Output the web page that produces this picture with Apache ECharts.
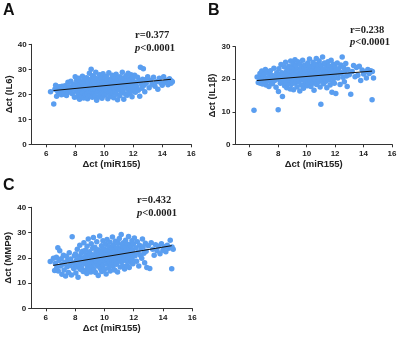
<!DOCTYPE html>
<html><head><meta charset="utf-8">
<script src="https://cdn.jsdelivr.net/npm/echarts@6/dist/echarts.min.js"></script>
<style>html,body{margin:0;padding:0;background:#fff}#c{width:412px;height:350px}</style>
</head><body><div id="c"></div>
<script>
// Δct (miR155) for each sample (shared x)
const mir155 = [6.30,6.52,6.60,6.65,6.72,6.75,6.82,6.85,6.90,6.95,7.00,7.05,7.10,7.15,7.20,7.25,7.30,7.35,7.40,7.45,7.50,7.55,7.60,7.65,7.70,7.75,7.80,7.85,7.90,7.95,
8.00,8.02,8.05,8.10,8.12,8.15,8.20,8.22,8.25,8.30,8.32,8.35,8.40,8.42,8.45,8.50,8.52,8.55,8.58,8.60,8.62,8.65,8.70,8.72,8.75,8.78,8.80,8.82,8.85,8.88,8.90,8.92,8.95,8.98,
9.00,9.02,9.05,9.08,9.10,9.12,9.15,9.18,9.20,9.22,9.25,9.28,9.30,9.32,9.35,9.38,9.40,9.42,9.45,9.48,9.50,9.52,9.55,9.58,9.60,9.62,9.65,9.68,9.70,9.72,9.75,9.78,9.80,9.82,9.85,9.88,9.90,9.92,9.95,9.98,
10.00,10.02,10.05,10.08,10.10,10.12,10.15,10.18,10.20,10.22,10.25,10.28,10.30,10.32,10.35,10.38,10.40,10.42,10.45,10.48,10.50,10.52,10.55,10.58,10.60,10.62,10.65,10.68,10.70,10.72,10.75,10.78,10.80,10.82,10.85,10.88,10.90,10.92,10.95,10.98,
11.00,11.02,11.05,11.08,11.10,11.12,11.15,11.18,11.20,11.22,11.25,11.28,11.30,11.32,11.35,11.38,11.40,11.42,11.45,11.48,11.50,11.52,11.55,11.58,11.60,11.62,11.65,11.68,11.70,11.72,11.75,11.78,11.80,11.82,11.85,11.88,11.90,11.92,11.95,11.98,
12.00,12.05,12.10,12.15,12.20,12.25,12.30,12.35,12.40,12.45,12.50,12.55,12.60,12.65,12.70,12.75,12.80,12.85,12.90,13.00,13.10,13.20,13.30,13.40,13.50,13.60,13.70,13.80,13.90,14.00,14.10,14.20,14.30,14.40,14.50,14.60,14.62,14.70];

const il6 = [21.0,16.1,22.0,23.6,19.2,21.5,22.8,20.3,23.0,21.2,22.5,19.8,23.2,21.0,22.6,20.0,23.4,21.8,19.5,22.2,24.8,20.8,23.0,21.4,25.2,22.0,20.2,24.0,22.8,18.8,
27.0,23.5,21.2,25.5,19.0,22.6,24.2,20.5,26.4,18.0,23.8,21.6,25.0,19.6,22.4,27.2,20.8,24.6,18.5,23.0,25.8,21.4,19.8,24.0,22.2,26.6,20.2,23.6,18.2,25.2,21.8,24.4,20.6,28.4,
22.6,19.4,26.0,23.2,30.0,21.0,24.8,18.8,27.4,22.0,25.4,20.4,23.8,26.8,19.2,24.2,21.6,28.8,22.8,17.6,25.0,20.8,23.4,26.2,21.2,24.6,19.0,27.8,22.4,25.6,20.0,23.6,26.4,21.8,18.4,24.8,22.2,28.2,20.6,25.2,
23.0,19.6,26.6,22.6,24.4,20.2,27.2,23.4,21.4,25.8,18.2,24.0,22.0,28.6,20.8,24.8,23.2,19.2,26.0,21.6,25.4,22.8,27.6,20.4,24.2,23.0,18.6,25.6,22.4,26.8,21.0,24.6,23.6,28.0,20.0,25.0,22.6,17.8,26.2,24.0,
21.8,25.6,23.4,19.4,27.0,24.4,22.2,26.0,20.6,24.8,28.8,23.0,21.2,25.4,18.0,24.2,26.6,22.8,25.8,20.0,24.6,27.4,22.4,19.6,25.2,23.6,28.4,21.6,24.0,26.2,22.2,20.4,25.6,23.2,27.8,21.4,24.8,19.0,26.4,23.8,
22.0,25.0,27.6,20.8,24.6,23.0,26.8,21.6,25.4,19.2,30.8,24.2,22.4,26.0,30.2,23.6,21.0,25.8,24.4,27.0,22.6,25.6,24.0,26.8,23.2,25.0,22.0,26.4,24.6,23.6,27.0,24.8,25.6,23.8,26.2,24.4,25.4,25.0];

const il1b = [10.5,20.7,19.0,20.5,21.8,18.8,19.9,22.5,18.5,20.9,21.5,19.2,23.0,18.2,20.4,21.9,19.5,17.8,20.8,22.6,19.0,21.2,18.6,20.0,23.4,19.6,21.0,17.5,22.0,20.2,
10.6,16.2,23.2,19.8,21.4,18.8,24.5,20.6,22.0,14.7,19.2,21.8,20.0,23.8,18.0,21.2,25.2,19.4,22.4,17.4,20.8,23.0,18.6,21.6,24.0,19.8,22.6,20.4,17.0,25.6,21.0,18.4,23.6,20.2,
22.2,19.0,24.8,16.8,21.4,23.4,20.0,26.0,18.8,21.8,24.2,19.6,22.8,17.6,20.6,25.4,21.2,23.0,19.2,22.4,20.4,16.4,24.6,21.6,18.2,23.8,20.8,22.6,19.8,25.8,21.0,17.2,23.2,20.2,22.0,18.6,24.4,21.4,19.4,23.6,
20.6,22.8,18.0,25.0,21.2,19.0,23.0,20.8,26.2,22.2,19.6,24.0,17.8,21.8,23.4,20.0,22.6,18.8,25.2,21.0,23.8,16.6,20.4,22.4,24.6,19.8,21.6,26.4,18.4,22.0,23.2,20.6,24.2,21.4,19.2,25.6,22.8,20.2,17.6,23.6,
12.3,21.2,24.4,19.6,22.6,26.8,20.8,23.0,18.6,21.8,25.0,20.0,22.4,24.8,19.4,21.6,23.6,17.4,22.2,20.4,25.4,21.0,23.4,19.8,24.0,21.4,18.2,22.8,20.6,25.8,22.0,16.0,23.2,21.2,19.0,24.6,22.4,20.2,18.8,23.8,
21.6,15.6,22.8,25.0,20.4,23.2,21.8,18.4,24.4,22.0,26.8,20.6,23.6,19.2,22.6,24.8,21.0,17.8,23.0,21.4,15.4,22.4,24.2,20.8,23.6,21.2,24.0,19.6,22.8,21.6,22.2,20.4,23.0,21.8,22.6,13.7,22.4,20.4];

const mmp9 = [18.5,19.8,15.0,17.8,20.2,16.2,24.0,14.8,18.9,22.8,16.8,19.6,13.5,17.4,21.0,15.2,18.2,12.8,20.6,16.5,19.0,14.2,22.0,17.0,19.5,13.2,28.3,18.0,15.8,20.8,
17.2,21.5,14.0,19.0,16.4,23.4,12.3,18.6,20.4,17.0,25.0,15.5,19.8,21.8,16.0,22.6,18.4,14.6,20.0,26.0,17.6,19.2,23.0,15.0,21.2,18.2,13.8,24.6,16.6,20.6,27.4,18.8,15.4,22.4,
19.6,17.2,21.6,14.4,25.6,18.0,20.8,16.2,23.8,19.4,28.0,15.2,21.0,17.8,24.2,19.0,14.2,22.2,18.6,26.4,20.4,16.8,23.2,13.0,19.8,21.8,17.4,28.6,20.2,15.8,22.8,18.4,24.8,14.6,21.4,19.2,26.8,17.0,23.6,20.0,
15.4,22.0,18.8,25.4,21.2,13.6,19.6,27.2,17.6,23.0,20.6,16.0,24.4,21.6,18.2,26.2,14.8,22.6,20.0,17.2,23.8,19.4,28.2,16.6,21.8,25.0,18.0,22.4,15.2,20.8,26.6,19.0,23.4,17.4,21.4,24.0,14.4,20.4,25.8,18.6,
22.2,27.6,19.8,16.4,23.6,21.0,29.2,18.4,24.8,20.6,16.8,22.8,26.0,19.6,21.8,15.6,24.2,20.2,27.0,18.8,23.2,21.2,17.0,25.4,22.0,19.2,28.4,23.8,16.2,21.6,25.2,20.0,18.2,24.6,22.6,26.8,19.4,23.0,17.6,25.6,
21.4,27.8,20.8,24.0,18.6,26.4,22.2,16.8,25.0,21.0,23.6,19.8,27.4,24.4,21.8,18.0,25.8,22.6,16.2,24.8,15.8,26.0,23.4,21.0,25.2,22.8,24.6,21.6,25.6,23.0,24.4,22.4,25.0,23.8,27.0,15.7,24.3,23.4];

// regression lines (endpoints)
const fitIL6  = [[6.5,21.5],[14.6,26.0]];
const fitIL1b = [[6.5,19.6],[14.6,22.5]];
const fitMMP9 = [[6.5,17.0],[14.6,24.8]];

const xTicks = [6,8,10,12,14,16];
const panelLetters = ['A','B','C'];
const yTitles = ['\u0394ct (IL6)','\u0394ct (IL1\u03b2)','\u0394ct (MMP9)'];
const xTitle = '\u0394ct (miR155)';
const yMax = [40,30,40];
const rTexts = ['r=0.377','r=0.238','r=0.432'];

const grids = [
  {left:31.7, top:44.3, width:159.5, height:100},
  {left:235.5, top:46.7, width:156.5, height:97.6},
  {left:31.2, top:207.3, width:161, height:101}
];
const ySeries = [il6, il1b, mmp9];
const fits = [fitIL6, fitIL1b, fitMMP9];

const axisColor = '#333';
const sans = 'Liberation Sans, Arial, sans-serif';
const serif = 'Liberation Serif, Times New Roman, serif';

const option = {
  animation:false,
  backgroundColor:'#fff',
  grid: grids,
  xAxis: grids.map((g,i)=>({
    gridIndex:i, type:'value', min:5, max:16,
    name:xTitle, nameLocation:'middle', nameGap:15.5,
    nameTextStyle:{fontFamily:sans, fontWeight:'bold', fontSize:9.5, color:'#222'},
    axisLine:{show:true, lineStyle:{color:axisColor, width:1}},
    axisTick:{show:true, length:3, inside:false, customValues:xTicks, lineStyle:{color:axisColor}},
    axisLabel:{customValues:xTicks, margin:5, fontFamily:sans, fontWeight:'bold', fontSize:8, color:'#222'},
    splitLine:{show:false}
  })),
  yAxis: grids.map((g,i)=>({
    gridIndex:i, type:'value', min:0, max:yMax[i], interval:10,
    name:yTitles[i], nameLocation:'middle', nameGap:17,
    nameTextStyle:{fontFamily:sans, fontWeight:'bold', fontSize:9.5, color:'#222'},
    axisLine:{show:true, lineStyle:{color:axisColor, width:1}},
    axisTick:{show:true, length:3, lineStyle:{color:axisColor}},
    axisLabel:{margin:5, fontFamily:sans, fontWeight:'bold', fontSize:8, color:'#222'},
    splitLine:{show:false}
  })),
  series: [].concat(
    ySeries.map((ys,i)=>({
      type:'scatter', xAxisIndex:i, yAxisIndex:i, symbolSize:5.5,
      itemStyle:{color:'#5a9ef0', opacity:1},
      data: mir155.map((x,k)=>[x, ys[k]]), z:2
    })),
    fits.map((f,i)=>({
      type:'line', xAxisIndex:i, yAxisIndex:i, symbol:'none',
      lineStyle:{color:'#111', width:1}, data:f, z:3
    }))
  ),
  graphic: [
    {type:'text', left:3, top:3, style:{text:'A', font:'bold 16px '+sans, fill:'#111'}},
    {type:'text', left:208, top:3, style:{text:'B', font:'bold 16px '+sans, fill:'#111'}},
    {type:'text', left:3, top:178, style:{text:'C', font:'bold 16px '+sans, fill:'#111'}},
    {type:'text', left:135, top:30, style:{text:rTexts[0], font:'bold 10.5px '+serif, fill:'#222'}},
    {type:'text', left:135, top:43, style:{rich:{i:{fontStyle:'italic', fontWeight:'bold', fontSize:10.5, fontFamily:serif, fill:'#222'}, n:{fontWeight:'bold', fontSize:10.5, fontFamily:serif, fill:'#222'}}, text:'{i|p}{n|<0.0001}'}},
    {type:'text', left:350, top:25, style:{text:rTexts[1], font:'bold 10.5px '+serif, fill:'#222'}},
    {type:'text', left:350, top:37, style:{rich:{i:{fontStyle:'italic', fontWeight:'bold', fontSize:10.5, fontFamily:serif, fill:'#222'}, n:{fontWeight:'bold', fontSize:10.5, fontFamily:serif, fill:'#222'}}, text:'{i|p}{n|<0.0001}'}},
    {type:'text', left:137, top:195, style:{text:rTexts[2], font:'bold 10.5px '+serif, fill:'#222'}},
    {type:'text', left:137, top:208, style:{rich:{i:{fontStyle:'italic', fontWeight:'bold', fontSize:10.5, fontFamily:serif, fill:'#222'}, n:{fontWeight:'bold', fontSize:10.5, fontFamily:serif, fill:'#222'}}, text:'{i|p}{n|<0.0001}'}}
  ]
};
const chart = echarts.init(document.getElementById('c'), null, {renderer:'canvas'});
chart.setOption(option);
</script>
</body></html>
